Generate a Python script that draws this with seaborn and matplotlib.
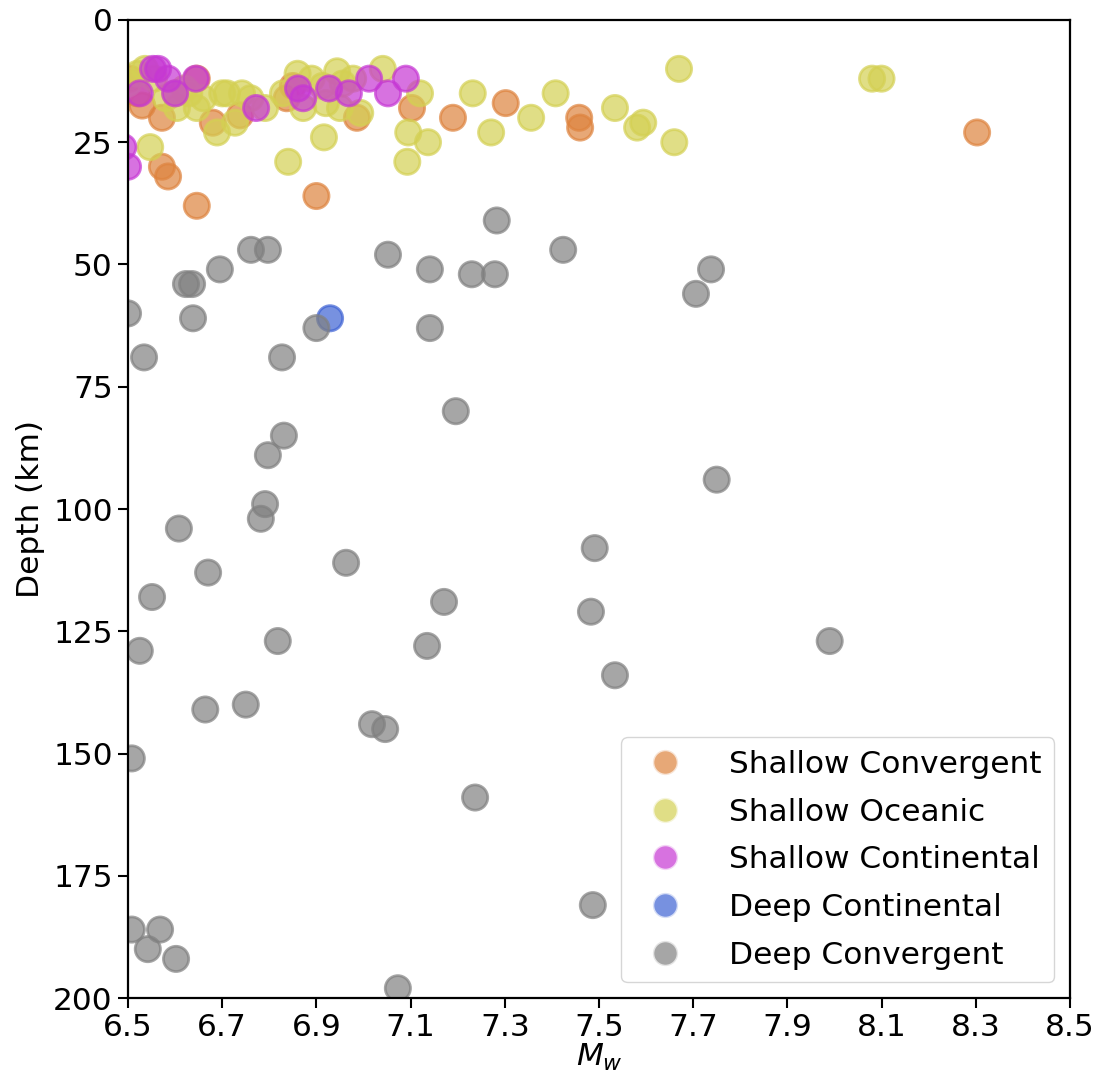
import numpy as np
import pandas as pd
import matplotlib
matplotlib.use('Agg')
import matplotlib.pyplot as plt
import seaborn as sns

# magnitude / depth, one pair of lists per class
sc_mw = [6.504, 6.53, 6.572, 6.646, 6.68, 6.738, 6.85, 6.837, 6.986, 7.103,
         6.572, 6.585, 6.646, 6.90, 7.19, 7.302, 7.458, 7.46, 8.303, 6.52]
sc_depth = [12, 17.5, 20, 12, 21, 19.5, 13.5, 16, 20, 18,
            30, 32, 38, 36, 20, 17, 20, 22, 23, 15]

so_mw = [6.536, 6.50, 6.52, 6.555, 6.58, 6.604, 6.62, 6.646, 6.66, 6.71, 6.742, 6.689,
         6.727, 6.791, 6.829, 6.89, 6.872, 6.944, 6.978, 6.95, 6.993, 7.041,
         7.12, 6.547, 6.84, 6.916, 7.095, 7.137, 7.093, 6.913, 6.956, 6.70,
         7.232, 7.271, 7.356, 7.408, 7.534, 7.581, 7.594, 7.67, 7.66, 8.08, 8.10,
         6.60, 6.63, 6.76, 6.92, 6.86]
so_depth = [10, 13, 11, 12, 16, 18, 14, 18, 16, 15, 15, 23,
            21, 18, 15, 12, 18, 10.5, 12, 18, 19, 10,
            15, 26, 29, 24, 23, 25, 29, 13.5, 13, 15,
            15, 23, 20, 15, 18, 22, 21, 10, 25, 12, 12,
            15, 15, 16, 17, 11]

sct_mw = [6.553, 6.564, 6.585, 6.525, 6.60, 6.644, 6.772, 6.861, 6.872, 6.927,
          6.969, 7.012, 7.052, 7.090, 6.50, 6.49]
sct_depth = [10, 10, 12, 15, 15, 12, 18, 14, 16, 14,
             15, 12, 15, 12, 30, 26]

dct_mw = [6.929]
dct_depth = [61]

dcv_mw = [7.283, 7.424, 7.738, 7.706, 7.052, 7.141, 7.23, 7.279, 6.761, 6.797,
          6.695, 6.623, 6.636, 6.638, 6.50, 6.90, 7.141, 6.534, 6.827, 7.196,
          6.831, 6.797, 6.791, 6.782, 6.608, 7.75, 7.491, 6.963, 6.67, 6.551,
          7.171, 7.483, 6.818, 6.525, 7.135, 7.99, 7.534, 6.664, 6.75, 7.018,
          7.046, 6.508, 7.237, 7.487, 6.508, 6.568, 6.542, 6.602, 7.073]
dcv_depth = [41, 47, 51, 56, 48, 51, 52, 52, 47, 47,
             51, 54, 54, 61, 60, 63, 63, 69, 69, 80,
             85, 89, 99, 102, 104, 94, 108, 111, 113, 118,
             119, 121, 127, 129, 128, 127, 134, 141, 140, 144,
             145, 151, 159, 181, 186, 186, 190, 192, 198]

classes = ['Shallow Convergent', 'Shallow Oceanic', 'Shallow Continental',
           'Deep Continental', 'Deep Convergent']
colors = ['#de833e', '#d4d053', '#c637d4', '#3e62d4', '#808080']

frames = []
for name, mw, dep in zip(classes,
                         [sc_mw, so_mw, sct_mw, dct_mw, dcv_mw],
                         [sc_depth, so_depth, sct_depth, dct_depth, dcv_depth]):
    frames.append(pd.DataFrame({'Mw': mw, 'Depth': dep, 'cls': name}))
df = pd.concat(frames, ignore_index=True)

sns.set_style('ticks')
plt.rcParams['font.size'] = 22.5
plt.rcParams['text.color'] = 'black'
plt.rcParams['axes.labelcolor'] = 'black'
plt.rcParams['xtick.color'] = 'black'
plt.rcParams['ytick.color'] = 'black'

fig = plt.figure(figsize=(10.99, 10.86), dpi=100)
ax = fig.add_axes([0.1165, 0.081, 0.857, 0.9006])

sns.scatterplot(data=df, x='Mw', y='Depth', hue='cls', hue_order=classes,
                palette=dict(zip(classes, colors)), s=330, alpha=0.7,
                linewidth=2, ax=ax)
for coll in ax.collections:
    coll.set_edgecolor(coll.get_facecolor())

ax.set_xlim(6.5, 8.5)
ax.set_ylim(200, 0)
ax.set_xticks(np.arange(6.5, 8.51, 0.2))
ax.set_xticklabels(['%.1f' % v for v in np.arange(6.5, 8.51, 0.2)])
ax.set_yticks(np.arange(0, 201, 25))
ax.tick_params(labelsize=22.5, length=7, width=1.5, color='black', pad=4)
for sp in ax.spines.values():
    sp.set_color('black')
    sp.set_linewidth(1.6)
ax.set_xlabel('$M_w$', fontsize=22.5, labelpad=0)
ax.set_ylabel('Depth (km)', fontsize=22.5, labelpad=6)

leg = ax.legend(loc='lower right', fontsize=22.5, handletextpad=1.05,
                borderpad=0.4, labelspacing=0.6)
for h in leg.legend_handles:
    h.set_alpha(0.7)

fig.savefig('out.png', dpi=100)
